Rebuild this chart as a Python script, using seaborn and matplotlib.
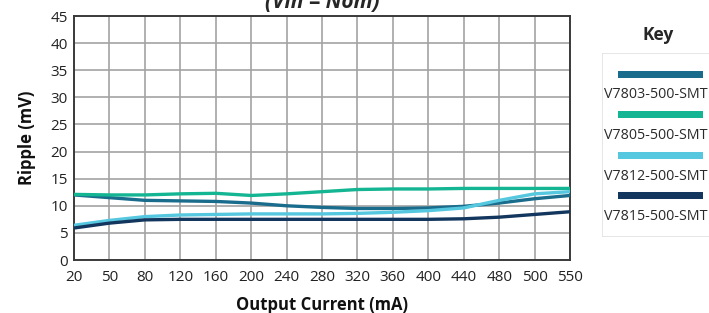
import matplotlib
matplotlib.use("Agg")
import matplotlib.pyplot as plt
import seaborn as sns
import pandas as pd
from matplotlib.patches import Rectangle

sns.set_style("white")
plt.rcParams['font.family'] = ['Open Sans', 'DejaVu Sans']

currents = ["20", "50", "80", "120", "160", "200", "240", "280", "320", "360", "400", "440", "480", "500", "550"]
v7803 = [12.0, 11.5, 11.0, 10.9, 10.8, 10.5, 10.0, 9.7, 9.5, 9.5, 9.6, 9.9, 10.5, 11.3, 11.9]
v7805 = [12.1, 12.0, 12.0, 12.2, 12.3, 11.9, 12.2, 12.6, 13.0, 13.1, 13.1, 13.2, 13.2, 13.2, 13.2]
v7812 = [6.4, 7.3, 8.0, 8.3, 8.4, 8.5, 8.5, 8.5, 8.6, 8.8, 9.1, 9.6, 11.0, 12.2, 12.6]
v7815 = [5.9, 6.8, 7.4, 7.5, 7.5, 7.5, 7.5, 7.5, 7.5, 7.5, 7.5, 7.6, 7.9, 8.4, 8.9]
series_names = ["V7803-500-SMT", "V7805-500-SMT", "V7812-500-SMT", "V7815-500-SMT"]
colors = ["#1a6c8c", "#14b592", "#55c7df", "#12365d"]
yticks = [0, 5, 10, 15, 20, 25, 30, 35, 40, 45]

rows = []
for name, vals in zip(series_names, [v7803, v7805, v7812, v7815]):
    for i, (c, v) in enumerate(zip(currents, vals)):
        rows.append({"pos": i, "current": c, "ripple": v, "series": name})
df = pd.DataFrame(rows)

fig = plt.figure(figsize=(7.09, 3.13), dpi=100)
ax = fig.add_axes([74/709, 1-260/313, (570-74)/709, (260-16)/313])

ax.set_xticks(range(len(currents)))
ax.set_xticklabels(currents)
ax.set_yticks(yticks)
ax.grid(True, color="#a3a3a3", linewidth=1.2, zorder=0)
ax.set_axisbelow(True)

sns.lineplot(data=df, x="pos", y="ripple", hue="series", palette=colors,
             hue_order=series_names, linewidth=2.4, legend=False, ax=ax, zorder=3)

ax.set_xlim(0, len(currents) - 1)
ax.set_ylim(0, 45)
for s in ax.spines.values():
    s.set_color("#3a3a3a")
    s.set_linewidth(1.4)
ax.tick_params(axis="both", labelsize=11, colors="#222222", length=0)
ax.tick_params(axis="x", pad=7)
ax.tick_params(axis="y", pad=4.5)
ax.set_xlabel("Output Current (mA)", fontsize=12, fontweight="bold", labelpad=8, color="#111111")
ax.set_ylabel("Ripple (mV)", fontsize=12, fontweight="bold", labelpad=10, color="#111111")

fig.text(322/709, 1-8/313, "(Vin = Nom)", fontsize=15, fontweight="bold", fontstyle="italic",
         ha="center", va="baseline")

# Legend ("Key") panel
fig.text(658/709, 1-40/313, "Key", fontsize=12.5, fontweight="bold", ha="center", va="baseline")
lax = fig.add_axes([602/709, 1-237/313, 120/709, (237-53)/313])
lax.set_xlim(602, 722)
lax.set_ylim(237, 53)
lax.axis("off")
lax.add_patch(Rectangle((602, 53), 119, 184, facecolor="white", edgecolor="#e2e2e2", linewidth=1.2))
for k, (name, col) in enumerate(zip(series_names, colors)):
    yb = 74 + k * 40.5
    lax.add_patch(Rectangle((618, yb - 3.5), 85, 7, facecolor=col, edgecolor="none"))
    lax.text(656, yb + 21, name, fontsize=10.3, ha="center", va="center", color="#2a2a2a")

fig.savefig("out.png", dpi=100)
